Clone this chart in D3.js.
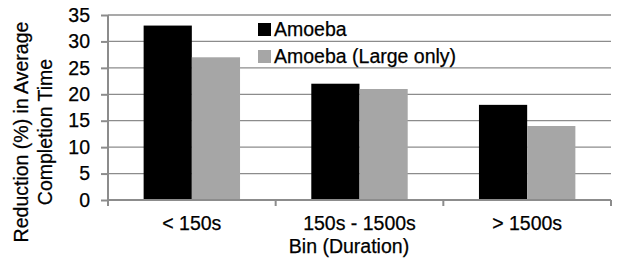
<!doctype html>
<html lang="en">
<head>
<meta charset="utf-8">
<title>Reduction in average completion time</title>
<style>
    body { margin: 0; background: #fff; }
    text { font-family: "Liberation Sans", Arial, sans-serif; fill: #000; stroke: #000; stroke-width: 0.25px; }
</style>
</head>
<body>
<svg width="618" height="260"></svg>
<script src="https://d3js.org/d3.v7.min.js"></script>
<script>
    // data
    var bins = ["< 150s", "150s - 1500s", "> 1500s"];
    var seriesNames = ["Amoeba", "Amoeba (Large only)"];
    var amoeba = [33, 22, 18];
    var amoebaLarge = [27, 21, 14];
    var yTicks = [0, 5, 10, 15, 20, 25, 30, 35];
    var colors = ["#000000", "#a6a6a6"];

    var svg = d3.select("svg");
    var plotLeft = 108, plotRight = 611, plotTop = 15, plotBottom = 200;
    var fontSize = "19.5px";

    var x = d3.scaleBand()
        .domain(bins)
        .range([plotLeft, plotRight])
        .paddingInner(0.425)
        .paddingOuter(0.2125);

    var xSub = d3.scaleBand()
        .domain(seriesNames)
        .range([0, x.bandwidth()]);

    var y = d3.scaleLinear()
        .domain([0, 35])
        .range([plotBottom, plotTop]);

    // gridlines
    svg.append("g")
        .selectAll("line")
        .data(yTicks.slice(1))
        .enter().append("line")
        .attr("x1", plotLeft)
        .attr("x2", plotRight)
        .attr("y1", function (d) { return y(d); })
        .attr("y2", function (d) { return y(d); })
        .attr("stroke", "#8c8c8c")
        .attr("stroke-width", 1.3);

    // bars
    var rows = bins.map(function (b, i) {
        return { bin: b, values: [amoeba[i], amoebaLarge[i]] };
    });

    var group = svg.append("g")
        .selectAll("g")
        .data(rows)
        .enter().append("g")
        .attr("transform", function (d) { return "translate(" + x(d.bin) + ",0)"; });

    group.selectAll("rect")
        .data(function (d) { return d.values; })
        .enter().append("rect")
        .attr("x", function (d, i) { return xSub(seriesNames[i]); })
        .attr("width", xSub.bandwidth())
        .attr("y", function (d) { return y(d); })
        .attr("height", function (d) { return plotBottom - y(d); })
        .attr("fill", function (d, i) { return colors[i]; });

    // y axis
    var yAxis = svg.append("g")
        .attr("transform", "translate(" + plotLeft + ",0)")
        .call(d3.axisLeft(y).tickValues(yTicks).tickSize(7).tickPadding(11));
    yAxis.selectAll("path, line").attr("stroke", "#8c8c8c").attr("stroke-width", 2);
    yAxis.select(".domain").attr("d", "M0," + (plotBottom + 5) + "V" + plotTop);
    yAxis.selectAll("text")
        .style("font-family", "Liberation Sans, Arial, sans-serif")
        .style("font-size", fontSize)
        .attr("fill", "#000");

    // x axis: ticks at band boundaries, labels at band centres
    var xAxis = svg.append("g");
    xAxis.append("line")
        .attr("x1", plotLeft).attr("x2", plotRight)
        .attr("y1", plotBottom).attr("y2", plotBottom)
        .attr("stroke", "#8c8c8c").attr("stroke-width", 2);
    var edges = bins.map(function (b) { return x(b) - x.step() * x.paddingInner() / 2; });
    edges.push(plotRight);
    xAxis.selectAll(".edge")
        .data(edges)
        .enter().append("line")
        .attr("x1", function (d) { return d; })
        .attr("x2", function (d) { return d; })
        .attr("y1", plotBottom)
        .attr("y2", plotBottom + 6)
        .attr("stroke", "#8c8c8c").attr("stroke-width", 2);
    xAxis.selectAll("text")
        .data(bins)
        .enter().append("text")
        .attr("x", function (d) { return x(d) + x.bandwidth() / 2; })
        .attr("y", 230)
        .attr("text-anchor", "middle")
        .style("font-size", fontSize)
        .text(function (d) { return d; });

    // axis titles
    svg.append("text")
        .attr("x", 349)
        .attr("y", 253)
        .attr("text-anchor", "middle")
        .style("font-size", fontSize)
        .text("Bin (Duration)");

    var yTitle = svg.append("text")
        .attr("transform", "translate(28,132) rotate(-90)")
        .attr("text-anchor", "middle")
        .style("font-size", fontSize);
    yTitle.append("tspan").attr("x", 0).attr("y", 0).text("Reduction (%) in Average");
    yTitle.append("tspan").attr("x", 0).attr("y", 24).text("Completion Time");

    // legend
    var legend = svg.append("g")
        .selectAll("g")
        .data(seriesNames)
        .enter().append("g")
        .attr("transform", function (d, i) { return "translate(258," + (23 + i * 27) + ")"; });
    legend.append("rect")
        .attr("width", 13)
        .attr("height", 13)
        .attr("fill", function (d, i) { return colors[i]; });
    legend.append("text")
        .attr("x", 16)
        .attr("y", 13)
        .style("font-size", fontSize)
        .text(function (d) { return d; });
</script>
</body>
</html>
